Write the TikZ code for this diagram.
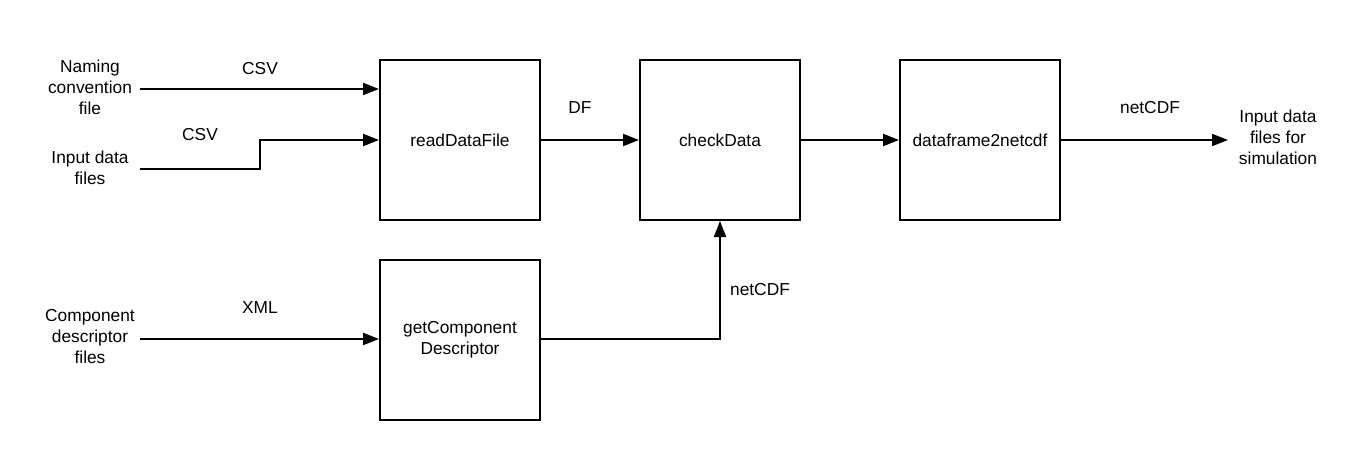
\documentclass[tikz,border=0pt]{standalone}
\usepackage{fontspec}
\setmainfont{Liberation Sans}
\usetikzlibrary{arrows.meta}
\begin{document}
\begin{tikzpicture}[x=0.75pt,y=-0.75pt,
  every node/.style={font=\fontsize{13}{15.75}\selectfont, align=center, inner sep=0pt},
  box/.style={draw, line width=1.5pt, minimum width=120pt, minimum height=120pt},
  conn/.style={line width=1.5pt, -{Triangle[length=12pt,width=9pt]}}]
\useasboundingbox (0,0) rectangle (1360,460);
\node[box] (rd) at (460,140) {readDataFile};
\node[box] (cd) at (720,140) {checkData};
\node[box] (df) at (980,140) {dataframe2netcdf};
\node[box] (gc) at (460,340) {getComponent\\Descriptor};
\node (ncf) at (90,87) {Naming\\convention\\file};
\node (idf) at (90,168) {Input data\\files};
\node (cdf) at (90,337) {Component\\descriptor\\files};
\node (out) at (1278,137) {Input data\\files for\\simulation};
\coordinate (s1) at (140,89);
\coordinate (s2) at (140,169);
\coordinate (s3) at (140,339);
\coordinate (e4) at (1228,140);
\draw[conn] (s1) -- (rd.west |- s1);
\draw[conn] (s2) -- (260,169) -- (260,140) -- (rd.west |- 0,140);
\draw[conn] (s3) -- (gc.west |- s3);
\draw[conn] (rd.east) -- (cd.west);
\draw[conn] (cd.east) -- (df.west);
\draw[conn] (df.east) -- (e4);
\draw[conn] (gc.east |- 0,339) -- (720,339) -- (cd.south);
\node (l1) at (260,69) {CSV};
\node (l2) at (200,135) {CSV};
\node (l3) at (260,308) {XML};
\node (l4) at (580,108) {DF};
\node (l5) at (1150,108) {netCDF};
\node (l6) at (760,290) {netCDF};
\end{tikzpicture}
\end{document}
